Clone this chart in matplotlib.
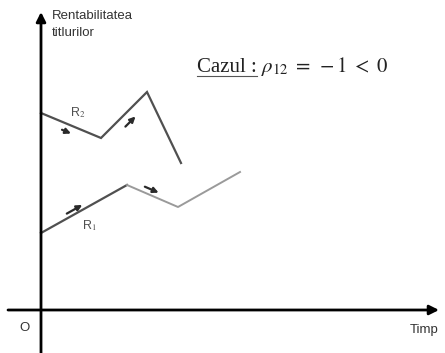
import matplotlib
matplotlib.use("Agg")
import matplotlib.pyplot as plt

# returns of the two securities over time (origin at the axes crossing)
t_r2 = [0, 60, 106, 140]
r2 = [197, 172, 218, 147]
t_r1 = [0, 86, 137, 199]
r1 = [77, 125, 103, 138]

plt.rcParams['mathtext.fontset'] = 'stix'

fig = plt.figure(figsize=(4.45, 3.53), dpi=100)
ax = fig.add_axes([0, 0, 1, 1])
ax.set_xlim(-41, 404)
ax.set_ylim(-43, 310)
ax.axis('off')

# axes with arrows
ax.annotate('', xy=(398, 0), xytext=(-33, 0),
            arrowprops=dict(arrowstyle='-|>', color='black', lw=2,
                            mutation_scale=14, shrinkA=0, shrinkB=0))
ax.annotate('', xy=(0, 298), xytext=(0, -43),
            arrowprops=dict(arrowstyle='-|>', color='black', lw=2,
                            mutation_scale=14, shrinkA=0, shrinkB=0))

# R2
ax.plot(t_r2, r2, color='#505050', lw=1.6, solid_joinstyle='miter')
# R1 (second half lighter)
ax.plot(t_r1[:2], r1[:2], color='#505050', lw=1.6)
ax.plot(t_r1[1:], r1[1:], color='#9a9a9a', lw=1.4)

# little direction arrows next to the segments
def seg_arrow(ts, vs, i, a, b, dx, dy):
    x0 = ts[i] + a * (ts[i + 1] - ts[i]) + dx
    y0 = vs[i] + a * (vs[i + 1] - vs[i]) + dy
    x1 = ts[i] + b * (ts[i + 1] - ts[i]) + dx
    y1 = vs[i] + b * (vs[i + 1] - vs[i]) + dy
    ax.annotate('', xy=(x1, y1), xytext=(x0, y0),
                arrowprops=dict(arrowstyle='-|>', color='#2a2a2a', lw=1.6,
                                mutation_scale=8, shrinkA=0, shrinkB=0))

seg_arrow(t_r2, r2, 0, 0.35, 0.5, 0, -8)
seg_arrow(t_r2, r2, 1, 0.4, 0.62, 6, -7)
seg_arrow(t_r1, r1, 0, 0.3, 0.48, 0, 5)
seg_arrow(t_r1, r1, 1, 0.35, 0.62, 0, 6)

ax.text(29, 197, r'R$_2$', fontsize=9, color='#505050', family='Liberation Sans',
        ha='left', va='center')
ax.text(41, 84, r'R$_1$', fontsize=9, color='#505050', family='Liberation Sans',
        ha='left', va='center')

ax.text(11, 294, 'Rentabilitatea', fontsize=9.5, color='#333333',
        family='Liberation Sans', ha='left', va='center')
ax.text(11, 277, 'titlurilor', fontsize=9.5, color='#333333',
        family='Liberation Sans', ha='left', va='center')
ax.text(-22, -18, 'O', fontsize=9.5, color='#333333', family='Liberation Sans',
        ha='left', va='center')
ax.text(369, -20, 'Timp', fontsize=9.5, color='#333333', family='Liberation Sans',
        ha='left', va='center')

cz = ax.text(156, 238, 'Cazul :', fontsize=15, family='Liberation Serif',
             ha='left', va='baseline', color='#222222')
fig.canvas.draw()
bb = cz.get_window_extent().transformed(ax.transData.inverted())
ax.text(bb.x1 + 4, 238, r'$\rho_{12}\;=\;-1\;<\;0$', fontsize=15,
        ha='left', va='baseline', color='#222222')
ax.plot([bb.x0, bb.x1], [234, 234], color='#555555', lw=0.8)

fig.savefig('out.png', dpi=100)
